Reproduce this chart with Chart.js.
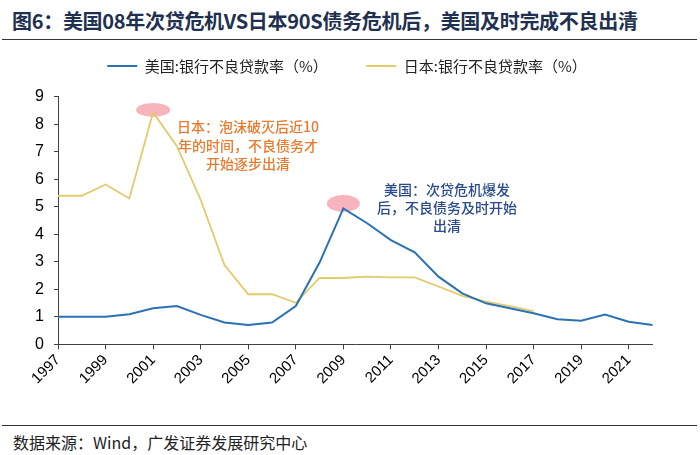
<!DOCTYPE html>
<html>
<head>
<meta charset="utf-8">
<script src="https://cdn.jsdelivr.net/npm/chart.js@4"></script>
<style>
  html,body{margin:0;padding:0;background:#fff;}
  body{width:700px;height:455px;position:relative;overflow:hidden;font-family:"Noto Sans CJK SC","Liberation Sans",sans-serif;}
  .ttl{position:absolute;left:12px;top:6px;font-size:20px;font-weight:bold;color:#1f3050;white-space:nowrap;letter-spacing:-0.3px;}
  .rule{position:absolute;left:2px;width:695px;height:1px;background:#333;}
  .src{position:absolute;left:13px;top:430px;font-size:16px;color:#222;white-space:nowrap;}
  .wrap{position:absolute;left:0;top:20px;width:700px;height:400px;}
</style>
</head>
<body>
<div class="ttl">图6：美国08年次贷危机VS日本90S债务危机后，美国及时完成不良出清</div>
<div class="rule" style="top:39px"></div>
<div class="wrap"><canvas id="c"></canvas></div>
<div class="rule" style="top:425px"></div>
<div class="src">数据来源：Wind，广发证券发展研究中心</div>
<script>
'use strict';

const years=['1997','1998','1999','2000','2001','2002','2003','2004','2005','2006','2007','2008','2009',
  '2010','2011','2012','2013','2014','2015','2016','2017','2018','2019','2020','2021','2022'];
const usNpl=[1.0,1.0,1.0,1.09,1.31,1.39,1.07,0.79,0.70,0.79,1.39,2.97,4.94,4.40,3.79,3.34,2.46,1.85,1.49,1.31,1.13,0.91,0.86,1.08,0.82,0.70];
const jpNpl=[5.4,5.4,5.81,5.3,8.43,7.2,5.25,2.88,1.82,1.82,1.51,2.41,2.41,2.46,2.43,2.43,2.1,1.76,1.55,1.39,1.21];
const seriesNames=['美国:银行不良贷款率（%）','日本:银行不良贷款率（%）'];
const yTicks=[0,1,2,3,4,5,6,7,8,9];

const FONT_NUM='"Liberation Sans", Arial, sans-serif';
const FONT_CJK='"Noto Sans CJK SC", sans-serif';

// pink highlight ellipses + the two annotation notes
const notes={
  id:'notes',
  beforeInit(chart){
    const fit=chart.legend.fit;
    chart.legend.fit=function(){ fit.call(this); this.height+=13.2; };
  },
  afterLayout(chart){ chart.legend.left=41.5; },   // centre legend over 41.5..652.5
  beforeDatasetsDraw(chart){
    const {ctx,scales:{x,y}}=chart;
    const marks=[[4,jpNpl[4],-2.5,17,7],[12,usNpl[12],-5,16.5,8.5]];
    ctx.save(); ctx.fillStyle='#f7b4bc';
    marks.forEach(([i,v,dy,rx,ry])=>{ ctx.beginPath(); ctx.ellipse(x.getPixelForValue(i),y.getPixelForValue(v)+dy,rx,ry,0,0,Math.PI*2); ctx.fill(); });
    ctx.restore();
  },
  afterDatasetsDraw(chart){
    const ctx=chart.ctx;
    const txt=[
      {c:'#e97a2e',x:248,y:107,lines:['日本：泡沫破灭后近10','年的时间，不良债务才','开始逐步出清']},
      {c:'#2b4c8c',x:447,y:169.5,lines:['美国：次贷危机爆发','后，不良债务及时开始','出清']}
    ];
    ctx.save(); ctx.textAlign='center'; ctx.textBaseline='middle'; ctx.font='500 14px '+FONT_CJK;
    txt.forEach(t=>{ ctx.fillStyle=t.c; t.lines.forEach((l,k)=>ctx.fillText(l,t.x,t.y+k*18.3)); });
    ctx.restore();
  }
};

new Chart(document.getElementById('c').getContext('2d'),{
  type:'line',
  data:{labels:years,datasets:[
    {label:seriesNames[0],data:usNpl,borderColor:'#2a72b5',backgroundColor:'#2a72b5',borderWidth:2,pointRadius:0,tension:0},
    {label:seriesNames[1],data:jpNpl,borderColor:'#e3cb6a',backgroundColor:'#e3cb6a',borderWidth:1.8,pointRadius:0,tension:0}
  ]},
  options:{
    responsive:true,maintainAspectRatio:false,animation:false,
    layout:{padding:{left:0,right:47.5,top:0,bottom:0}},
    plugins:{
      legend:{position:'top',labels:{color:'#222',font:{family:FONT_CJK,size:15},usePointStyle:true,pointStyle:'line',pointStyleWidth:30,padding:38.5}},
      tooltip:{enabled:false}
    },
    scales:{
      x:{
        offset:false,
        afterFit:s=>{ s.height=75.7; },
        grid:{drawOnChartArea:false,tickLength:5,color:c=>c.index%2===0?'#404040':'transparent'},
        border:{color:'#404040',width:1},
        ticks:{autoSkip:false,minRotation:45,maxRotation:45,padding:2,color:'#000',font:{family:FONT_NUM,size:15},
          callback:(v,i)=>i%2===0?years[i]:''}
      },
      y:{
        min:0,max:9,
        afterFit:s=>{ s.width=58; },
        afterBuildTicks:s=>{ s.ticks=yTicks.map(v=>({value:v})); },
        grid:{drawOnChartArea:false,tickLength:4,color:'#404040'},
        border:{color:'#404040',width:1},
        ticks:{padding:10,color:'#000',font:{family:FONT_NUM,size:16}}
      }
    }
  },
  plugins:[notes]
});
</script>
</body>
</html>
